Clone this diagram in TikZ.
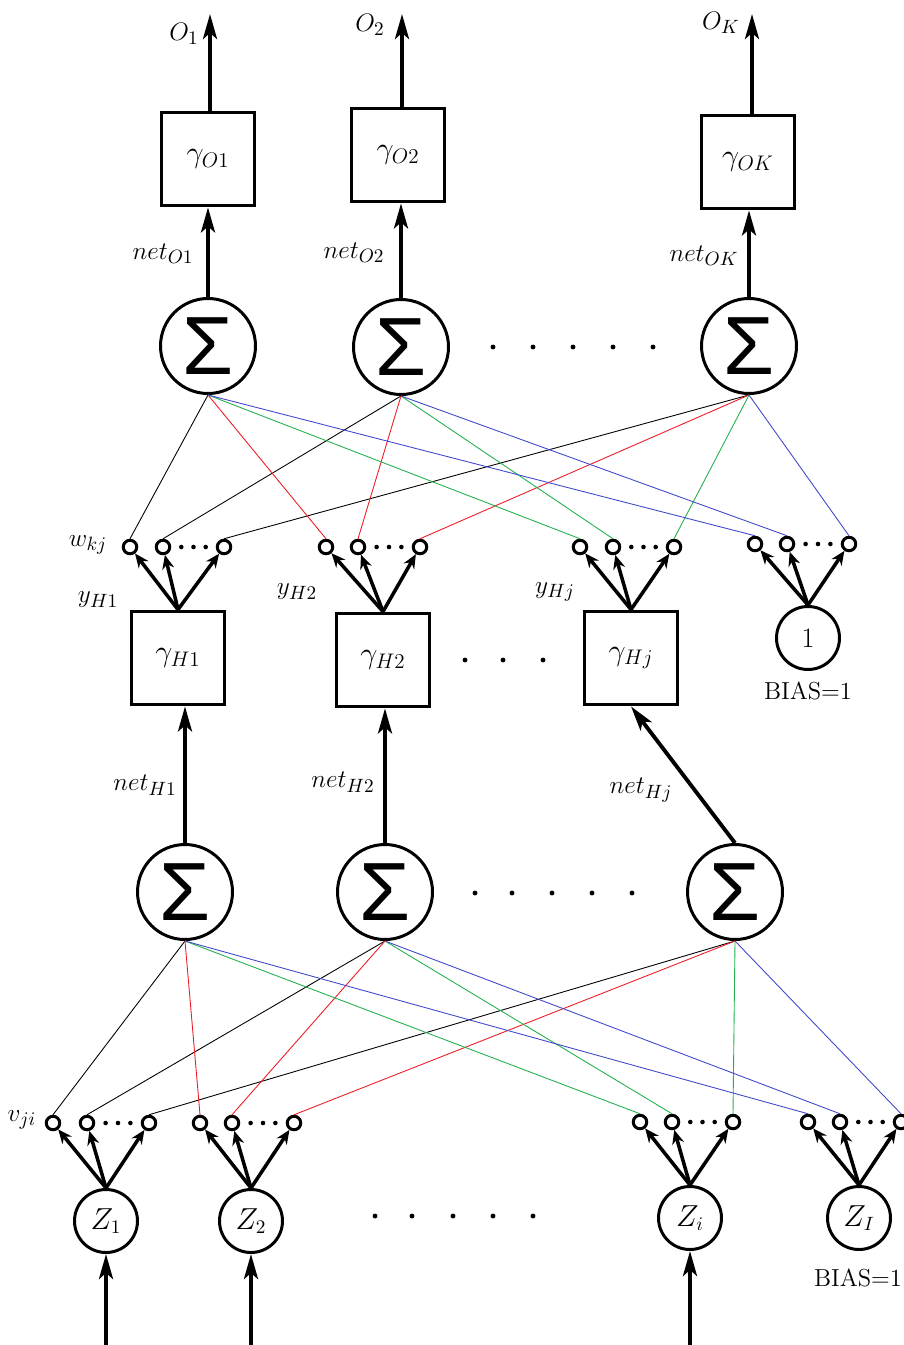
\documentclass[tikz,border=0pt]{standalone}
\usepackage{fontspec}
\newfontfamily\sumfont{Liberation Sans}
\usetikzlibrary{
    arrows.meta
}
\definecolor{wred}{RGB}{237,28,36}
\definecolor{wgreen}{RGB}{34,177,76}
\definecolor{wblue}{RGB}{63,72,204}

\begin{document}
\begin{tikzpicture}[x=0.02cm, y=-0.02cm,
    every node/.style={font=\fontsize{15}{17}\selectfont},
    sumnode/.style={draw, circle, line width=1.7pt, minimum size=1.9cm, inner sep=0pt, font=\sumfont\fontsize{47}{47}\selectfont},
    actbox/.style={draw, rectangle, line width=2.2pt, minimum size=1.86cm, inner sep=0pt, font=\fontsize{17}{19}\selectfont},
    innode/.style={draw, circle, line width=1.7pt, minimum size=1.26cm, inner sep=0pt, font=\fontsize{16}{18}\selectfont},
    wnode/.style={draw, circle, line width=1.7pt, minimum size=0.27cm, inner sep=0pt},
    biaslabel/.style={font=\fontsize{14}{16}\selectfont},
    bigarrow/.style={line width=2.2pt, -{Stealth[length=5mm, width=2.8mm, inset=1.2mm]}},
    smallarrow/.style={line width=2pt, -{Stealth[length=2.8mm, width=2.4mm]}},
    wline/.style={line width=0.5pt}
]
    \useasboundingbox (0,0) rectangle (903,1345);

    % output layer
    \node[actbox] (go1) at (208,159) {$\gamma_{O1}$};
    \node[actbox] (go2) at (398,155) {$\gamma_{O2}$};
    \node[actbox] (go3) at (748,162) {$\gamma_{OK}$};
    \node[sumnode] (so1) at (208,346) {Σ};
    \node[sumnode] (so2) at (401,347) {Σ};
    \node[sumnode] (so3) at (749,346) {Σ};
    \coordinate (o1) at (210,14);
    \coordinate (o2) at (402,14);
    \coordinate (o3) at (752,14);
    \foreach \k in {1,2,3} {
        \draw[bigarrow] (o\k |- go\k.north) -- (o\k);
        \draw[bigarrow] (so\k.north) -- (so\k.north |- go\k.south);
    }
    \node (lo1) at (184,34) {$O_1$};
    \node (lo2) at (370,25) {$O_2$};
    \node (lo3) at (721,23) {$O_K$};
    \node (lno1) at (163,254) {$net_{O1}$};
    \node (lno2) at (354,253) {$net_{O2}$};
    \node (lno3) at (704,256) {$net_{OK}$};
    \foreach \xx in {493,533,573,613,653}
        \fill (\xx,347) circle (1.4pt);

    % hidden layer
    \node[actbox] (gh1) at (178,658) {$\gamma_{H1}$};
    \node[actbox] (gh2) at (383,660) {$\gamma_{H2}$};
    \node[actbox] (gh3) at (631,658) {$\gamma_{Hj}$};
    \node[innode] (bh) at (808,638) {1};
    \node[biaslabel] (lbh) at (808,691) {BIAS=1};
    \foreach \xx in {465,503,543}
        \fill (\xx,660) circle (1.4pt);
    \foreach \g/\src/\xa/\xb/\xc/\yy in {1/gh1/130/163/224/547, 2/gh2/326/358/420/547,
                                        3/gh3/580/613/674/547, 4/bh/755/787/849/544} {
        \node[wnode] (w\g1) at (\xa,\yy) {};
        \node[wnode] (w\g2) at (\xb,\yy) {};
        \node[wnode] (w\g3) at (\xc,\yy) {};
        \foreach \t in {0.3,0.5,0.7}
            \fill ({\xb+\t*(\xc-\xb)},\yy) circle (1.3pt);
        \foreach \k in {1,2,3}
            \draw[smallarrow] (\src.north) -- (w\g\k);
    }
    \foreach \g/\c in {1/black,2/wred,3/wgreen,4/wblue}
        \foreach \k in {1,2,3}
            \draw[wline,\c] (so\k.south) -- (w\g\k.north);
    \node (lw) at (88,545) {$w_{kj}$};
    \node (lyh1) at (98,600) {$y_{H1}$};
    \node (lyh2) at (297,592) {$y_{H2}$};
    \node (lyh3) at (555,592) {$y_{Hj}$};

    \node[sumnode] (sh1) at (185,892) {Σ};
    \node[sumnode] (sh2) at (385,892) {Σ};
    \node[sumnode] (sh3) at (735,892) {Σ};
    \draw[bigarrow] (sh1.north) -- (sh1.north |- gh1.south);
    \draw[bigarrow] (sh2.north) -- (sh2.north |- gh2.south);
    \draw[bigarrow] (sh3.north) -- (gh3.south);
    \node (lnh1) at (145,785) {$net_{H1}$};
    \node (lnh2) at (343,782) {$net_{H2}$};
    \node (lnh3) at (641,790) {$net_{Hj}$};
    \foreach \xx in {475,512,552,592,632}
        \fill (\xx,893) circle (1.4pt);

    % input layer
    \node[innode] (z1) at (106,1221) {$Z_1$};
    \node[innode] (z2) at (251,1221) {$Z_2$};
    \node[innode] (z3) at (690,1218) {$Z_i$};
    \node[innode] (z4) at (859,1218) {$Z_I$};
    \node[biaslabel] (lbz) at (858,1278) {BIAS=1};
    \foreach \xx in {375,412,453,493,533}
        \fill (\xx,1216) circle (1.4pt);
    \foreach \g/\xa/\xb/\xc/\yy in {1/53/87/149/1123, 2/200/232/294/1123,
                                   3/640/672/733/1122, 4/808/840/901/1122} {
        \node[wnode] (v\g1) at (\xa,\yy) {};
        \node[wnode] (v\g2) at (\xb,\yy) {};
        \node[wnode] (v\g3) at (\xc,\yy) {};
        \foreach \t in {0.3,0.5,0.7}
            \fill ({\xb+\t*(\xc-\xb)},\yy) circle (1.3pt);
        \foreach \k in {1,2,3}
            \draw[smallarrow] (z\g.north) -- (v\g\k);
    }
    \foreach \g/\c in {1/black,2/wred,3/wgreen,4/wblue}
        \foreach \k in {1,2,3}
            \draw[wline,\c] (sh\k.south) -- (v\g\k.north);
    \node (lv) at (22,1120) {$v_{ji}$};
    \coordinate (i1) at (106,1345);
    \coordinate (i2) at (251,1345);
    \coordinate (i3) at (690,1345);
    \foreach \k in {1,2,3}
        \draw[bigarrow] (i\k) -- (z\k);
\end{tikzpicture}
\end{document}
